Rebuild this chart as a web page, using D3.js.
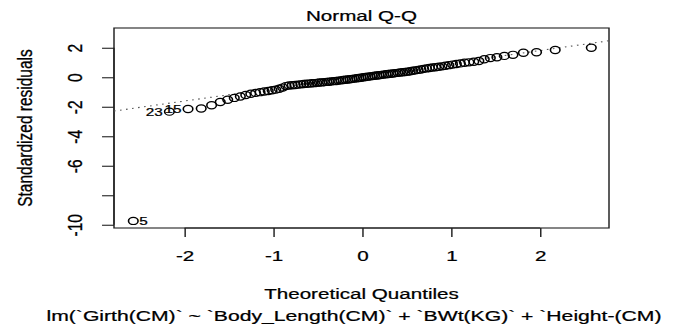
<!DOCTYPE html>
<html>
<head>
<meta charset="utf-8">
<script src="https://cdn.jsdelivr.net/npm/d3@7"></script>
<style>
  html, body { margin: 0; padding: 0; background: #fff; }
  svg { display: block; font-family: "Liberation Sans", Arial, sans-serif; }
</style>
</head>
<body>
<div id="chart"></div>
<script>
// theoretical quantiles (n = 100), sorted
const theoQuantiles = [
  -2.576, -2.170, -1.960, -1.812, -1.695, -1.598, -1.514, -1.440, -1.372, -1.311,
  -1.254, -1.200, -1.150, -1.103, -1.058, -1.015, -0.974, -0.935, -0.896, -0.860,
  -0.824, -0.789, -0.755, -0.722, -0.690, -0.659, -0.628, -0.598, -0.568, -0.539,
  -0.510, -0.482, -0.454, -0.426, -0.399, -0.372, -0.345, -0.319, -0.292, -0.266,
  -0.240, -0.215, -0.189, -0.164, -0.138, -0.113, -0.088, -0.063, -0.038, -0.013,
   0.013,  0.038,  0.063,  0.088,  0.113,  0.138,  0.164,  0.189,  0.215,  0.240,
   0.266,  0.292,  0.319,  0.345,  0.372,  0.399,  0.426,  0.454,  0.482,  0.510,
   0.539,  0.568,  0.598,  0.628,  0.659,  0.690,  0.722,  0.755,  0.789,  0.824,
   0.860,  0.896,  0.935,  0.974,  1.015,  1.058,  1.103,  1.150,  1.200,  1.254,
   1.311,  1.372,  1.440,  1.514,  1.598,  1.695,  1.812,  1.960,  2.170,  2.576
];

// standardized residuals, sorted
const stdResiduals = [
  -9.74, -2.33, -2.15, -2.12, -1.90, -1.68, -1.52, -1.40, -1.30, -1.20,
  -1.12, -1.06, -1.01, -0.97, -0.93, -0.88, -0.84, -0.78, -0.70, -0.60,
  -0.56, -0.54, -0.52, -0.50, -0.48, -0.46, -0.44, -0.43, -0.41, -0.40,
  -0.38, -0.36, -0.35, -0.33, -0.31, -0.30, -0.28, -0.26, -0.25, -0.23,
  -0.21, -0.19, -0.17, -0.15, -0.13, -0.11, -0.09, -0.07, -0.05, -0.03,
   0.00,  0.02,  0.04,  0.06,  0.08,  0.10,  0.12,  0.14,  0.16,  0.18,
   0.20,  0.22,  0.24,  0.26,  0.28,  0.30,  0.32,  0.34,  0.36,  0.38,
   0.41,  0.44,  0.47,  0.50,  0.53,  0.57,  0.60,  0.63,  0.66,  0.68,
   0.71,  0.74,  0.78,  0.82,  0.86,  0.90,  0.94,  0.98,  1.01,  1.05,
   1.10,  1.22,  1.30,  1.36,  1.45,  1.52,  1.66,  1.70,  1.85,  2.00
];

// flagged observations
const flaggedIndex = [0, 1, 2];
const flaggedLabel = ["5", "23", "15"];
const flaggedSide = ["right", "left", "left"];

// qq reference line
const lineIntercept = 0.10;
const lineSlope = 0.856;

const xTicks = [-2, -1, 0, 1, 2];
const yTicks = [2, 0, -2, -4, -6, -8, -10];
const yTickLabels = ["2", "0", "-2", "-4", "-6", "", "-10"];

const titleText = "Normal Q-Q";
const xTitle = "Theoretical Quantiles";
const yTitle = "Standardized residuals";
const subTitle = "lm(`Girth(CM)` ~ `Body_Length(CM)` + `BWt(KG)` + `Height-(CM)";

// the picture is stretched horizontally, so draw in a narrower space
const SX = 1.33;
const outW = 678, outH = 324;
const W = outW / SX;

const plot = { left: 114 / SX, right: 609 / SX, top: 28, bottom: 228 };
const font = '"Liberation Sans", Arial, sans-serif';
const ink = '#000';

const svg = d3.select('#chart').append('svg')
  .attr('width', outW)
  .attr('height', outH)
  .attr('viewBox', `0 0 ${W} ${outH}`)
  .attr('preserveAspectRatio', 'none');

const x = d3.scaleLinear().domain([-2.793, 2.775]).range([plot.left, plot.right]);
const y = d3.scaleLinear().domain([-10.22, 3.34]).range([plot.bottom, plot.top]);

// slightly heavier text, like the blurred original
function inkText(sel, size) {
  sel.attr('font-size', size).attr('fill', ink)
    .attr('font-family', font)
    .attr('stroke', ink).attr('stroke-width', 0.25);
}

// box
svg.append('rect')
  .attr('x', plot.left).attr('y', plot.top)
  .attr('width', plot.right - plot.left)
  .attr('height', plot.bottom - plot.top)
  .attr('fill', 'none').attr('stroke', '#222').attr('stroke-width', 1.1);

// x axis
const xAxis = svg.append('g')
  .attr('transform', `translate(0,${plot.bottom})`)
  .call(d3.axisBottom(x).tickValues(xTicks).tickSize(9).tickPadding(13).tickSizeOuter(0)
    .tickFormat(d => String(d)));
xAxis.select('.domain').attr('stroke', '#222')
  .attr('d', `M${x(xTicks[0])},0H${x(xTicks[xTicks.length - 1])}`);
xAxis.selectAll('.tick line').attr('stroke', '#222').attr('stroke-width', 1.1);
xAxis.selectAll('.tick text').call(inkText, 15.5);

// y axis
const yAxis = svg.append('g')
  .attr('transform', `translate(${plot.left},0)`)
  .call(d3.axisLeft(y).tickValues(yTicks).tickSize(9).tickSizeOuter(0)
    .tickFormat((d, i) => yTickLabels[i]));
yAxis.select('.domain').attr('stroke', '#222')
  .attr('d', `M0,${y(yTicks[0])}V${y(yTicks[yTicks.length - 1])}`);
yAxis.selectAll('.tick line').attr('stroke', '#222').attr('stroke-width', 1.1);
yAxis.selectAll('.tick text')
  .call(inkText, 15.5)
  .attr('text-anchor', 'middle')
  .attr('dy', null)
  .attr('x', null)
  .attr('transform', `translate(${82 / SX - plot.left},0) rotate(-90)`);

// reference line
const [x0, x1] = x.domain();
svg.append('line')
  .attr('x1', x(x0)).attr('y1', y(lineIntercept + lineSlope * x0))
  .attr('x2', x(x1)).attr('y2', y(lineIntercept + lineSlope * x1))
  .attr('stroke', '#555').attr('stroke-width', 1.1)
  .attr('stroke-dasharray', '1.2,3.4');

// points
svg.append('g').selectAll('circle')
  .data(theoQuantiles)
  .join('circle')
  .attr('cx', d => x(d))
  .attr('cy', (d, i) => y(stdResiduals[i]))
  .attr('r', 3.6)
  .attr('fill', 'none')
  .attr('stroke', ink)
  .attr('stroke-width', 1.2);

// point labels
svg.append('g').selectAll('text')
  .data(flaggedIndex)
  .join('text')
  .attr('x', (d, i) => x(theoQuantiles[d]) + (flaggedSide[i] === 'right' ? 4.5 : -5))
  .attr('y', d => y(stdResiduals[d]))
  .attr('dy', '0.36em')
  .attr('text-anchor', (d, i) => flaggedSide[i] === 'right' ? 'start' : 'end')
  .call(inkText, 11.5)
  .text((d, i) => flaggedLabel[i]);

// titles
const midX = (plot.left + plot.right) / 2;
svg.append('text')
  .attr('x', midX).attr('y', 21)
  .attr('text-anchor', 'middle')
  .call(inkText, 15.5)
  .text(titleText);

svg.append('text')
  .attr('x', midX).attr('y', 299)
  .attr('text-anchor', 'middle')
  .call(inkText, 15.5)
  .text(xTitle);

svg.append('text')
  .attr('x', 354 / SX).attr('y', 321)
  .attr('text-anchor', 'middle')
  .attr('textLength', 615 / SX).attr('lengthAdjust', 'spacingAndGlyphs')
  .call(inkText, 15.5)
  .text(subTitle);

svg.append('text')
  .attr('transform', `translate(${32 / SX},${(plot.top + plot.bottom) / 2}) rotate(-90)`)
  .attr('text-anchor', 'middle')
  .call(inkText, 15.5)
  .text(yTitle);
</script>
</body>
</html>
